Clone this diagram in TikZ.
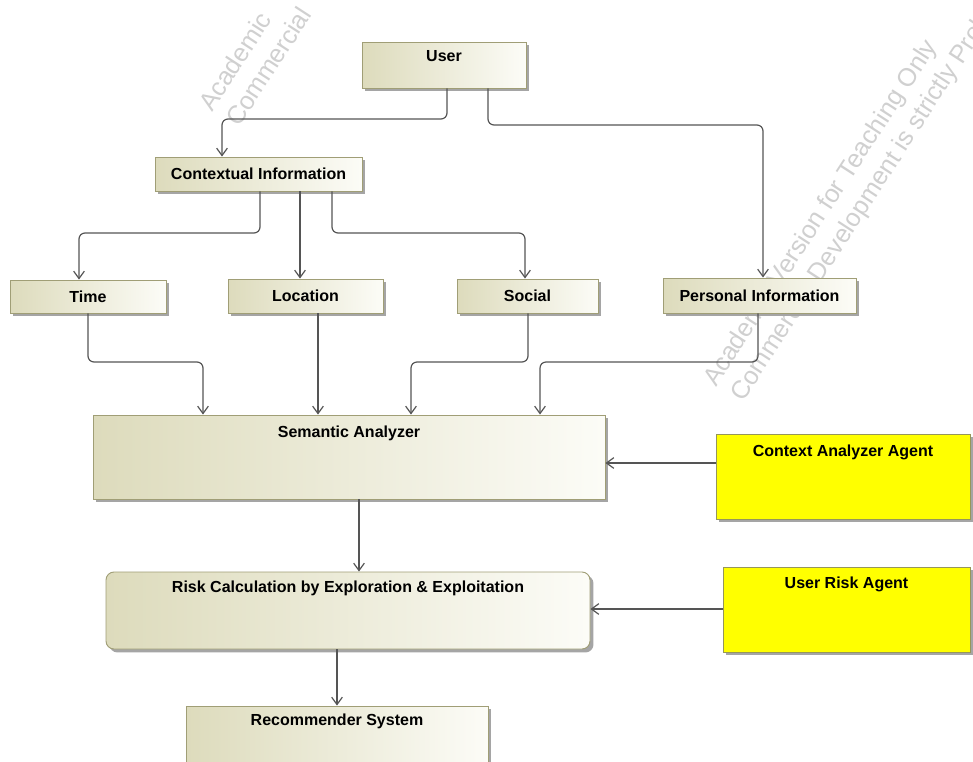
\documentclass[tikz,border=0pt]{standalone}
\usepackage{fontspec}
\setmainfont{Liberation Sans}
\usetikzlibrary{arrows.meta,shadows,calc}

\definecolor{boxL}{RGB}{221,219,188}
\definecolor{boxR}{RGB}{252,252,247}
\definecolor{boxline}{RGB}{160,158,118}
\definecolor{shadowgray}{RGB}{165,165,165}
\definecolor{agentfill}{RGB}{255,255,0}
\definecolor{agentline}{RGB}{150,150,90}
\definecolor{wire}{RGB}{85,85,85}
\definecolor{wmark}{RGB}{208,208,208}

\begin{document}
\begin{tikzpicture}[x=0.75pt,y=-0.75pt,
  boxsize/.style 2 args={minimum width=#1*0.75pt, minimum height=#2*0.75pt},
  entity/.style={draw=boxline, line width=0.7pt, left color=boxL, right color=boxR,
    inner sep=0pt, font=\fontsize{12pt}{14pt}\selectfont\bfseries,
    drop shadow={shadow xshift=2.6pt, shadow yshift=-2.6pt, fill=shadowgray, opacity=1}},
  agent/.style={draw=agentline, line width=0.7pt, fill=agentfill, inner sep=0pt,
    drop shadow={shadow xshift=2.6pt, shadow yshift=-2.6pt, fill=shadowgray, opacity=1}},
  caption/.style={anchor=north, inner sep=0pt, font=\fontsize{12pt}{14pt}\selectfont\bfseries},
  conn/.style={draw=wire, line width=0.9pt, rounded corners=4.5pt,
    -{Straight Barb[length=5.5pt, width=8pt, line width=0.9pt]}},
  watermark/.style={anchor=base west, inner sep=0pt, text=wmark, rotate=57,
    font=\fontsize{19pt}{22pt}\selectfont}
]
\clip (0,0) rectangle (973,761);
\fill[white] (0,0) rectangle (973,761);

% faint licence text in the background
\begin{scope}
  \clip (0,0) rectangle (311,761);
  \node[watermark] (wm1) at (212,113) {Academic};
  \node[watermark] (wm2) at (239,128) {Commercial};
\end{scope}
\node[watermark] (wm3) at (716,388) {Academic Version for Teaching Only};
\node[watermark] (wm4) at (743,403) {Commercial Development is strictly Prohibited};

% entities
\node[entity, boxsize={164}{46},
  label={[caption, yshift=-6.5pt]north:User}] (user) at (444,65) {};
\node[entity, boxsize={207}{34}] (ctx) at (258.5,174) {Contextual Information};
\node[entity, boxsize={156}{33}] (time) at (88,296.5) {Time};
\node[entity, boxsize={155}{34}] (loc) at (305.5,296) {Location};
\node[entity, boxsize={141}{34}] (soc) at (527.5,296) {Social};
\node[entity, boxsize={193}{35}] (pers) at (759.5,295.5) {Personal Information};
\node[entity, boxsize={512}{84},
  label={[caption, yshift=-8pt]north:Semantic Analyzer}] (sem) at (349,457) {};
\node[agent, boxsize={254}{85},
  label={[caption, yshift=-8pt]north:Context Analyzer Agent}] (caa) at (843,476.5) {};
\node[entity, rounded corners=6pt, boxsize={484}{77},
  label={[caption, yshift=-7pt]north:Risk Calculation by Exploration \& Exploitation}] (risk) at (348,610.5) {};
\node[agent, boxsize={247}{85},
  label={[caption, yshift=-7.5pt]north:User Risk Agent}] (ura) at (846.5,609.5) {};
\node[entity, boxsize={302}{70},
  label={[caption, yshift=-6pt]north:Recommender System}] (rec) at (337,741) {};

% connectors
\draw[conn] (447,0 |- user.south) -- (447,119) -- (222,119) -- (222,0 |- ctx.north);
\draw[conn] (488,0 |- user.south) -- (488,125) -- (763,125) -- (763,0 |- pers.north);
\draw[conn] (260,0 |- ctx.south) -- (260,233) -- (79,233) -- (79,0 |- time.north);
\draw[conn] (300,0 |- ctx.south) -- (300,0 |- loc.north);
\draw[conn] (332,0 |- ctx.south) -- (332,233) -- (525,233) -- (525,0 |- soc.north);
\draw[conn] (88,0 |- time.south) -- (88,362) -- (203,362) -- (203,0 |- sem.north);
\draw[conn] (318,0 |- loc.south) -- (318,0 |- sem.north);
\draw[conn] (528,0 |- soc.south) -- (528,362) -- (411,362) -- (411,0 |- sem.north);
\draw[conn] (758,0 |- pers.south) -- (758,362) -- (540,362) -- (540,0 |- sem.north);
\draw[conn] (caa.west |- 0,463) -- (sem.east |- 0,463);
\draw[conn] (359,0 |- sem.south) -- (359,0 |- risk.north);
\draw[conn] (ura.west |- 0,609) -- (risk.east |- 0,609);
\draw[conn] (337,0 |- risk.south) -- (337,0 |- rec.north);
\end{tikzpicture}
\end{document}
